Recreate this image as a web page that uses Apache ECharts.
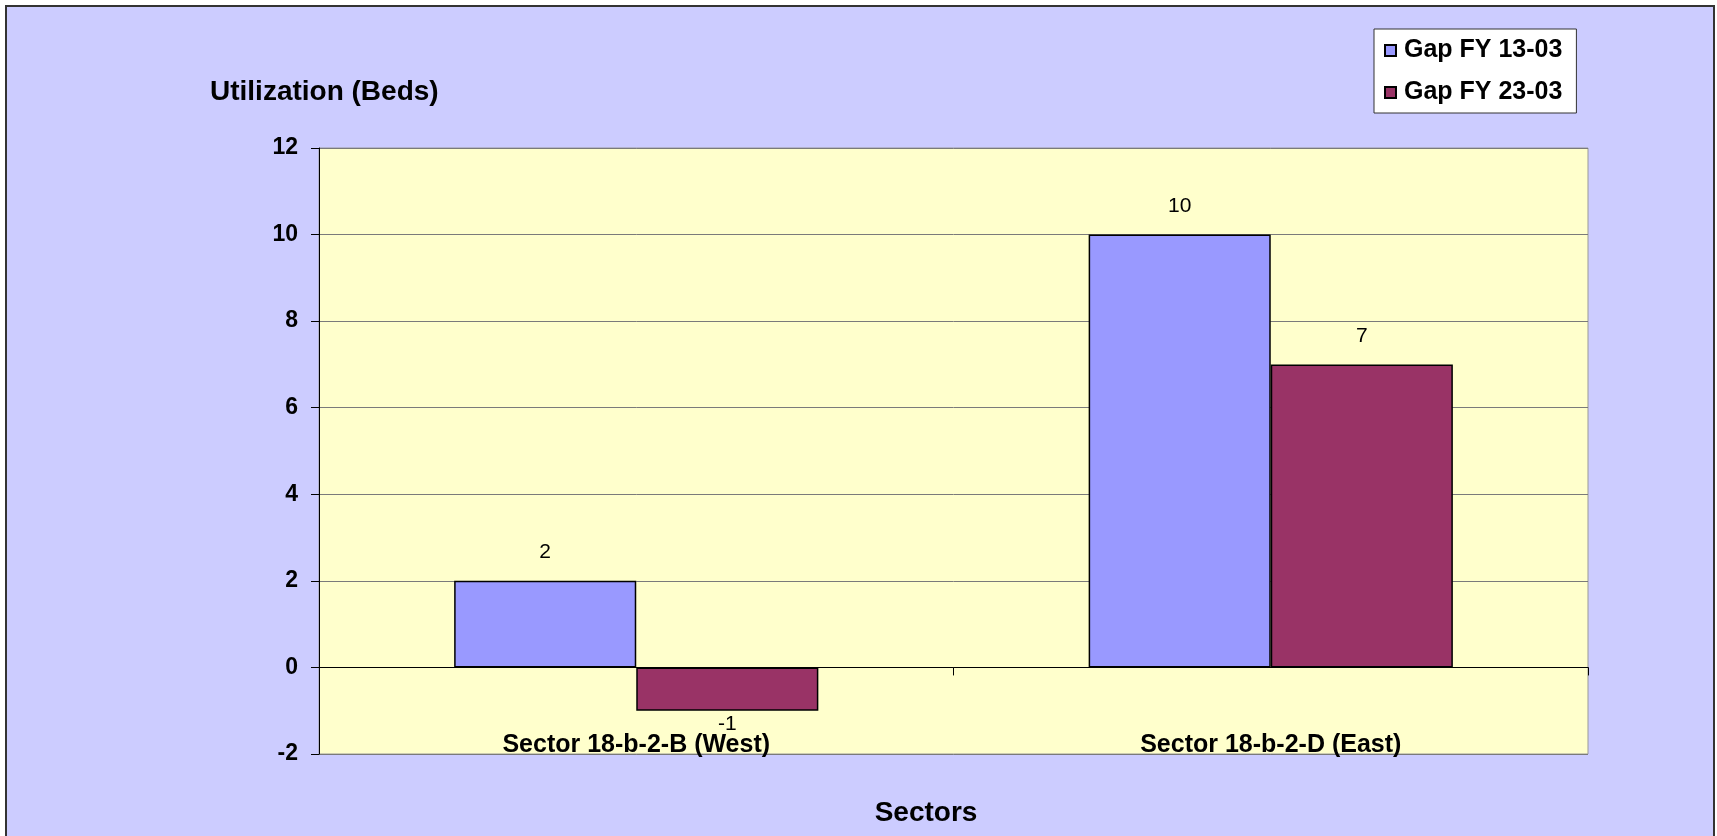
<!DOCTYPE html>
<html>
<head>
<meta charset="utf-8">
<title>Utilization (Beds)</title>
<script src="https://cdn.jsdelivr.net/npm/echarts@6/dist/echarts.min.js"></script>
<style>
  html, body {
    margin: 0;
    padding: 0;
    background: #ffffff;
  }
  #myChart {
    width: 1717px;
    height: 836px;
  }
</style>
</head>
<body>
<div id="myChart"></div>
<script>
  var categories = ['Sector 18-b-2-B (West)', 'Sector 18-b-2-D (East)']
  var gap1303 = [2, 10]
  var gap2303 = [-1, 7]
  var seriesNames = ['Gap FY 13-03', 'Gap FY 23-03']
  var yTicks = { min: -2, max: 12, interval: 2 }

  var font = 'Arial, "Liberation Sans", sans-serif'

  // negative bars get their label underneath
  function toItems(arr){
    return arr.map(function(v){
      if (v < 0) {
        return { value: v, label: { position: 'bottom', distance: 3 } }
      }
      return v
    })
  }

  var barLabel = {
    show: true,
    position: 'top',
    distance: 18,
    color: '#000',
    fontFamily: font,
    fontSize: 21
  }

  var myChart = echarts.init(document.getElementById('myChart'))
  var option = {
    backgroundColor: '#ffffff',
    animation: false,
    graphic: [
      {
        type: 'rect',
        z: -10,
        shape: { x: 6, y: 6, width: 1708, height: 840 },
        style: { fill: '#CCCCFF', stroke: '#333', lineWidth: 2 }
      }
    ],
    title: [
      {
        text: 'Utilization (Beds)',
        left: 210,
        top: 78,
        padding: 0,
        textStyle: { fontFamily: font, fontSize: 28, fontWeight: 'bold', color: '#000' }
      },
      {
        text: 'Sectors',
        left: 926,
        top: 799,
        textAlign: 'center',
        padding: 0,
        textStyle: { fontFamily: font, fontSize: 28, fontWeight: 'bold', color: '#000' }
      }
    ],
    legend: {
      orient: 'vertical',
      left: 1374,
      top: 29,
      padding: [9, 14, 8, 10],
      itemGap: 17,
      itemWidth: 11,
      itemHeight: 11,
      backgroundColor: '#ffffff',
      borderColor: '#333',
      borderWidth: 1,
      icon: 'rect',
      textStyle: { fontFamily: font, fontSize: 25, fontWeight: 'bold', color: '#000', padding: [0, 0, 0, 3] },
      data: seriesNames
    },
    grid: {
      show: true,
      left: 319,
      top: 148,
      width: 1269,
      height: 606,
      backgroundColor: '#FFFFCC',
      borderColor: '#999',
      borderWidth: 1
    },
    xAxis: [
      {
        type: 'category',
        data: categories,
        axisLine: { onZero: true, lineStyle: { color: '#000', width: 1 } },
        axisTick: { show: true, length: 8, lineStyle: { color: '#000' } },
        axisLabel: { show: false },
        splitLine: { show: false }
      },
      {
        type: 'category',
        data: categories,
        position: 'bottom',
        axisLine: { onZero: false, show: false },
        axisTick: { show: false },
        axisLabel: {
          margin: -21,
          fontFamily: font,
          fontSize: 25,
          fontWeight: 'bold',
          color: '#000'
        }
      }
    ],
    yAxis: {
      type: 'value',
      min: yTicks.min,
      max: yTicks.max,
      interval: yTicks.interval,
      axisLine: { show: true, lineStyle: { color: '#000', width: 1 } },
      axisTick: { show: true, length: 8, lineStyle: { color: '#000' } },
      axisLabel: {
        margin: 21,
        fontFamily: font,
        fontSize: 23,
        fontWeight: 'bold',
        color: '#000'
      },
      splitLine: { show: true, lineStyle: { color: '#7a7a7a', width: 1 } }
    },
    series: [
      {
        name: seriesNames[0],
        type: 'bar',
        xAxisIndex: 0,
        data: toItems(gap1303),
        barGap: '0%',
        barCategoryGap: '42.6%',
        itemStyle: { color: '#9999FF', borderColor: '#000', borderWidth: 1.5 },
        label: barLabel
      },
      {
        name: seriesNames[1],
        type: 'bar',
        xAxisIndex: 0,
        data: toItems(gap2303),
        barGap: '0%',
        barCategoryGap: '42.6%',
        itemStyle: { color: '#993366', borderColor: '#000', borderWidth: 1.5 },
        label: barLabel
      }
    ]
  }
  myChart.setOption(option)
</script>
</body>
</html>
